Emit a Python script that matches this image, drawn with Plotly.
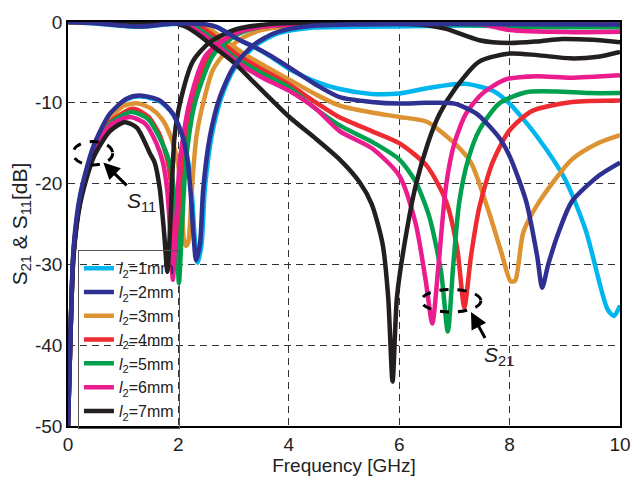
import plotly.graph_objects as go

# ---------------- data ----------------
lengths = ["1mm", "2mm", "3mm", "4mm", "5mm", "6mm", "7mm"]
colors = ["#00B6EF", "#2E3192", "#DE9332", "#EE2B30", "#00A04E", "#EB1C8E", "#231F20"]

# S11 curves
f11_1 = [0, 0.04, 0.1, 0.22, 0.46, 0.76, 1.06, 1.3, 1.66, 1.9, 2.08, 2.22, 2.3, 2.35, 2.42, 2.48, 2.6, 2.78, 3.02, 3.4, 3.8, 4.4, 5.3, 6.5, 8, 10]
s11_1 = [-50, -40, -28.5, -21.8, -15.6, -11.5, -9.6, -9.2, -9.8, -11.4, -14.2, -19.4, -27, -29.8, -27.5, -20.6, -14.2, -9.3, -5.7, -2.9, -1.4, -0.7, -0.6, -0.5, -0.4, -0.4]
f11_2 = [0, 0.04, 0.1, 0.22, 0.46, 0.76, 1.06, 1.3, 1.66, 1.9, 2.08, 2.17, 2.22, 2.28, 2.32, 2.39, 2.45, 2.57, 2.75, 2.99, 3.35, 3.77, 4.38, 5.28, 7, 10]
s11_2 = [-50, -40, -28, -21.4, -15.4, -11.35, -9.5, -9.1, -9.7, -11.35, -14.2, -17.4, -21, -27, -29.5, -27.5, -20.6, -14.2, -9.3, -5.7, -2.9, -1.3, -0.5, -0.3, -0.25, -0.3]
f11_3 = [0, 0.04, 0.1, 0.22, 0.46, 0.76, 1.0, 1.25, 1.5, 1.7, 1.85, 1.99, 2.06, 2.1, 2.14, 2.18, 2.25, 2.33, 2.45, 2.62, 2.81, 3.1, 3.5, 4.5, 6, 7.5, 8.5, 10]
s11_3 = [-50, -40, -28.5, -22, -16, -12, -10.4, -10.05, -10.7, -12, -14, -17.4, -22, -27, -27.7, -27.2, -20, -14, -10, -6, -4.1, -2.2, -1.0, -0.3, -0.2, 0, -0.1, -0.2]
f11_4 = [0, 0.04, 0.1, 0.22, 0.46, 0.76, 1.18, 1.45, 1.65, 1.81, 1.88, 1.93, 1.97, 2.02, 2.1, 2.25, 2.55, 3.0, 3.5, 5, 10]
s11_4 = [-50, -40, -28.6, -22, -16.1, -12.4, -10.75, -11.7, -13.8, -17.4, -21, -27, -30.5, -26, -17, -10, -4.1, -1.6, -0.6, -0.2, -0.3]
f11_5 = [0, 0.04, 0.1, 0.22, 0.46, 0.76, 1.15, 1.45, 1.65, 1.84, 1.92, 1.97, 2.01, 2.06, 2.14, 2.3, 2.63, 3.05, 3.5, 5, 7, 8, 10]
s11_5 = [-50, -40, -28.7, -22.1, -16.2, -12.6, -11.15, -12, -14.2, -17.4, -21, -27, -32.3, -26, -17, -10, -4.1, -1.6, -0.6, -0.2, -0.3, -0.6, -0.65]
f11_6 = [0, 0.04, 0.1, 0.22, 0.46, 0.76, 1.12, 1.4, 1.6, 1.72, 1.8, 1.86, 1.9, 1.95, 2.03, 2.2, 2.5, 3.0, 3.5, 5, 7.5, 8.0, 9, 10]
s11_6 = [-50, -40, -28.8, -22.2, -16.3, -12.8, -11.75, -12.6, -15, -17.4, -21, -27, -31.9, -26, -17, -10, -4.1, -1.5, -0.6, -0.2, -0.3, -1.0, -1.25, -1.2]
f11_7 = [0, 0.04, 0.1, 0.22, 0.46, 0.76, 1.03, 1.25, 1.48, 1.57, 1.66, 1.74, 1.8, 1.86, 1.93, 2.03, 2.26, 2.57, 3.05, 3.78, 5, 6.5, 6.85, 7.45, 8, 8.5, 8.95, 9.5, 10]
s11_7 = [-50, -40, -29, -22.5, -16.8, -13.5, -12.4, -13.1, -16.2, -17.4, -20.5, -26, -30.9, -24, -14.2, -10, -4.9, -2.5, -0.9, -0.2, -0.1, -0.4, -0.85, -2.25, -2.6, -2.4, -2.1, -2.2, -2.5]

# S21 curves
f21_1 = [0, 0.5, 1.3, 1.9, 2.5, 2.72, 2.92, 3.12, 3.37, 3.7, 4.0, 4.5, 4.92, 5.5, 6, 6.5, 7, 7.2, 7.7, 8, 8.5, 9, 9.38, 9.77, 9.89, 10]
s21_1 = [0, -0.2, -0.6, -0.25, -0.35, -0.7, -1.5, -2.3, -3.1, -4.4, -5.8, -7.4, -8.3, -8.9, -8.85, -8.2, -7.7, -7.65, -8.5, -10.1, -14.2, -19.4, -25.8, -35.5, -36.4, -35.1]
f21_2 = [0, 0.5, 1.3, 1.9, 2.5, 2.69, 2.9, 3.1, 3.35, 3.7, 4.0, 4.5, 4.92, 5.5, 6, 6.5, 7, 7.4, 7.8, 8.0, 8.3, 8.5, 8.59, 8.7, 8.9, 9.13, 9.62, 10]
s21_2 = [0, -0.15, -0.55, -0.2, -0.3, -0.6, -1.4, -2.2, -3.0, -4.3, -5.6, -7.8, -9.3, -9.9, -10.1, -10, -10.1, -11.35, -14.2, -16.6, -22.2, -29, -32.9, -30, -25.8, -22.2, -19, -17.4]
f21_3 = [0, 2.3, 2.45, 2.7, 2.95, 3.2, 3.5, 4.0, 4.5, 4.92, 5.5, 6.0, 6.5, 7.0, 7.3, 7.6, 7.85, 8.02, 8.1, 8.25, 8.54, 9.13, 9.6, 10]
s21_3 = [0, -0.1, -0.4, -1.5, -2.8, -4, -5.2, -7.1, -9, -10.35, -11.2, -11.75, -12.35, -15, -17.4, -23, -28.5, -32.1, -32, -26, -22.2, -17, -15, -14]
f21_4 = [0, 2.2, 2.35, 2.6, 2.85, 3.1, 3.5, 4.0, 4.5, 4.92, 5.5, 6.0, 6.5, 6.85, 7.05, 7.18, 7.3, 7.45, 7.69, 8.0, 8.41, 9.13, 10]
s21_4 = [0, -0.1, -0.4, -1.5, -2.9, -4.2, -5.8, -7.7, -10, -11.8, -13.5, -15, -17.8, -22.2, -28, -35.3, -29, -23, -17.4, -13.4, -11, -9.9, -9.7]
f21_5 = [0, 2.1, 2.26, 2.5, 2.75, 3.0, 3.5, 4.0, 4.5, 4.92, 5.5, 6.0, 6.3, 6.55, 6.76, 6.88, 6.98, 7.09, 7.25, 7.45, 7.81, 8.3, 8.84, 9.44, 10]
s21_5 = [0, -0.1, -0.4, -1.5, -2.8, -4.3, -6.3, -8.1, -10.8, -12.8, -14.8, -17, -19.8, -24.2, -31, -38.3, -30, -22.2, -17, -13.4, -10.1, -8.7, -8.6, -8.8, -8.8]
f21_6 = [0, 1.9, 2.2, 2.45, 2.7, 3.05, 3.5, 4.0, 4.5, 4.92, 5.5, 6.0, 6.3, 6.48, 6.6, 6.7, 6.85, 7.0, 7.21, 7.5, 7.93, 8.5, 9.1, 10]
s21_6 = [0, -0.1, -0.5, -1.6, -2.9, -4.9, -6.8, -8.5, -10.8, -13.5, -15.6, -19, -25, -32, -37.3, -31, -20.2, -15, -11.35, -8.9, -7.1, -6.7, -6.9, -6.6]
f21_7 = [0, 1.0, 1.9, 2.1, 2.35, 2.57, 3.0, 3.3, 4.0, 4.5, 4.92, 5.28, 5.5, 5.7, 5.8, 5.88, 5.96, 6.12, 6.3, 6.52, 6.73, 7.03, 7.45, 8.0, 8.5, 9.1, 9.6, 10]
s21_7 = [0, -0.1, -0.1, -0.5, -1.5, -2.7, -5.0, -7.0, -11.7, -14.5, -17, -19.8, -22.5, -27.5, -34, -44.5, -34, -26.5, -20.2, -15, -11.4, -8.1, -4.9, -3.9, -4.1, -4.5, -4.3, -3.7]

f11 = [f11_1, f11_2, f11_3, f11_4, f11_5, f11_6, f11_7]
s11 = [s11_1, s11_2, s11_3, s11_4, s11_5, s11_6, s11_7]
f21 = [f21_1, f21_2, f21_3, f21_4, f21_5, f21_6, f21_7]
s21 = [s21_1, s21_2, s21_3, s21_4, s21_5, s21_6, s21_7]

x_ticks = [0, 2, 4, 6, 8, 10]
y_ticks = [0, -10, -20, -30, -40, -50]
y_tick_text = ["0", "-10", "-20", "-30", "-40", "-50"]

FONT = "Liberation Sans, Arial, Helvetica, sans-serif"

fig = go.Figure()
draw_order = [0, 2, 3, 4, 5, 6, 1]
for i in draw_order:
    name = "<i>l</i><sub>2</sub>=" + lengths[i]
    fig.add_trace(go.Scatter(
        x=f21[i], y=s21[i], mode="lines", name=name, legendgroup=lengths[i],
        showlegend=False, line=dict(color=colors[i], width=4.5, shape="spline", smoothing=0.7),
        hoverinfo="skip"))
    fig.add_trace(go.Scatter(
        x=f11[i], y=s11[i], mode="lines", name=name, legendgroup=lengths[i],
        legendrank=i + 1, showlegend=True,
        line=dict(color=colors[i], width=4.5, shape="spline", smoothing=0.7),
        hoverinfo="skip"))

axis_common = dict(
    showline=True, linecolor="black", linewidth=1.5, mirror=True,
    showgrid=True, gridcolor="#333333", gridwidth=1, griddash="7px,5px",
    zeroline=False, ticks="", tickfont=dict(family=FONT, size=19, color="#222"),
)

fig.update_xaxes(range=[0, 10], tickvals=x_ticks, ticktext=[str(v) for v in x_ticks],
                 title=dict(text="Frequency [GHz]", font=dict(family=FONT, size=19, color="#222"), standoff=4),
                 **axis_common)
fig.update_yaxes(range=[-50, 0], tickvals=y_ticks, ticktext=y_tick_text,
                 title=dict(text="S<sub>21</sub> & S<sub>11</sub>[dB]", font=dict(family=FONT, size=21, color="#222"), standoff=2),
                 **axis_common)

# dashed ellipses
fig.add_shape(type="circle", xref="x", yref="y", x0=0.09, x1=0.81, y0=-17.7, y1=-14.8,
              line=dict(color="black", width=3, dash="dash"))
fig.add_shape(type="circle", xref="x", yref="y", x0=6.40, x1=7.48, y0=-35.9, y1=-33.1,
              line=dict(color="black", width=3, dash="dash"))

# arrows
fig.add_annotation(x=0.64, y=-17.4, ax=1.09, ay=-20.4, xref="x", yref="y", axref="x", ayref="y",
                   text="", showarrow=True, arrowhead=2, arrowsize=1.1, arrowwidth=3, arrowcolor="black")
fig.add_annotation(x=7.3, y=-35.9, ax=7.57, ay=-39.3, xref="x", yref="y", axref="x", ayref="y",
                   text="", showarrow=True, arrowhead=2, arrowsize=1.1, arrowwidth=3, arrowcolor="black")
# labels
fig.add_annotation(x=1.34, y=-22.3, xref="x", yref="y", text="<i>S</i><sub>11</sub>", showarrow=False,
                   font=dict(family=FONT, size=21, color="#222"))
fig.add_annotation(x=7.81, y=-41.3, xref="x", yref="y", text="<i>S</i><sub>21</sub>", showarrow=False,
                   font=dict(family=FONT, size=21, color="#222"))

fig.update_layout(
    width=643, height=484,
    margin=dict(l=68, r=22, t=16, b=54),
    paper_bgcolor="white", plot_bgcolor="white",
    showlegend=True,
    legend=dict(x=0.018, y=0.435, xanchor="left", yanchor="top",
                bgcolor="rgba(0,0,0,0)", bordercolor="#555", borderwidth=1,
                font=dict(family=FONT, size=16, color="#222"),
                tracegroupgap=1, itemwidth=30, traceorder="normal"),
)

fig.write_html("out.html")
